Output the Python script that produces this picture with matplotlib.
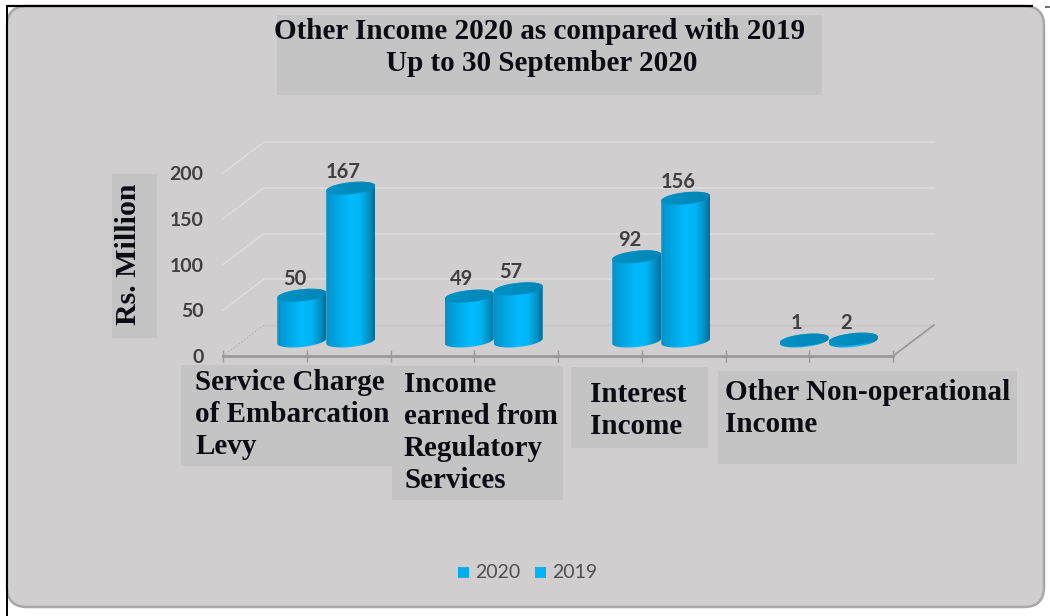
import numpy as np
import matplotlib
matplotlib.use("Agg")
import matplotlib.pyplot as plt
from matplotlib.colors import LinearSegmentedColormap
from matplotlib.patches import FancyBboxPatch, Rectangle
from matplotlib.path import Path
from matplotlib.transforms import Affine2D

categories = ["Service Charge\nof Embarcation\nLevy",
              "Income\nearned from\nRegulatory\nServices",
              "Interest\nIncome",
              "Other Non-operational\nIncome"]
series_names = ["2020", "2019"]
values_2020 = [50, 49, 92, 1]
values_2019 = [167, 57, 156, 2]
y_ticks = [0, 50, 100, 150, 200]
title_lines = ["Other Income 2020 as compared with 2019", "Up to 30 September 2020"]
y_title = "Rs. Million"

W, H = 1050, 616
PANEL = "#d0cece"
BOX = "#c4c4c4"
SERIF = "Liberation Serif"
SANS = "Lato"
INK = "#0b0b12"
LABEL = "#404040"

fig = plt.figure(figsize=(W / 100, H / 100), dpi=100, facecolor="white")

# Page-level layer, addressed in pixels from the top left
bg = fig.add_axes([0, 0, 1, 1], zorder=0)
bg.set_xlim(0, W)
bg.set_ylim(H, 0)
bg.axis("off")
bg.add_patch(FancyBboxPatch((7, 6), 1037, 601,
                            boxstyle="round,pad=0,rounding_size=20",
                            fc=PANEL, ec="#a8a8a8", lw=1.8))
bg.plot([6, 1033], [5.5, 5.5], color="black", lw=1.6, solid_capstyle="butt")
bg.plot([1045, 1050], [7, 7], color="#707070", lw=1.4, solid_capstyle="butt")
bg.plot([6.5, 6.5], [5, 616], color="black", lw=1.4, solid_capstyle="butt")

# Title and label backdrops
for (x0, y0, x1, y1) in [(277, 15, 822, 95), (112, 174, 157, 338),
                         (181, 365, 392, 466), (392, 366, 563, 500),
                         (571, 367, 708, 448), (718, 371, 1017, 464)]:
    bg.add_patch(Rectangle((x0, y0), x1 - x0, y1 - y0, fc=BOX, ec="none"))

for line, xc, yc in zip(title_lines, (540, 542), (31.5, 63.5)):
    bg.text(xc, yc, line, ha="center", va="center", family=SERIF,
            weight="bold", fontsize=21, color=INK)
bg.text(129, 254, y_title, rotation=90, ha="center", va="center", family=SERIF,
        weight="bold", fontsize=21.5, color=INK)

label_x = (195, 404, 590, 725)
label_y = (382.5, 384.5, 394.5, 392.5)
for text, x, y in zip(categories, label_x, label_y):
    for i, line in enumerate(text.split("\n")):
        bg.text(x, y + i * 32, line, ha="left", va="center", family=SERIF,
                weight="bold", fontsize=21, color=INK)

# Legend
for name, colour, sx, tx in zip(series_names, ("#00aeef", "#00b4f5"), (458, 535), (475, 552)):
    bg.add_patch(Rectangle((sx, 567), 11, 11, fc=colour, ec="none"))
    bg.text(tx, 572, name, ha="left", va="center", family=SANS, fontsize=14, color="#505050")

# Front plane of the chart: one data axes on the floor edge
X0, X1, Y0, Y1 = 223, 893, 356, 173
ax = fig.add_axes([X0 / W, 1 - Y0 / H, (X1 - X0) / W, (Y0 - Y1) / H], zorder=1)
ax.patch.set_alpha(0)
ax.set_xlim(-0.5, 3.5)
ax.set_ylim(0, 200)
for s in ("top", "right", "left"):
    ax.spines[s].set_visible(False)
ax.spines["bottom"].set_color("#9a9a9a")
ax.spines["bottom"].set_linewidth(2)

ax.set_yticks(y_ticks)
ax.tick_params(axis="y", length=0, pad=14)
for t in ax.get_yticklabels():
    t.set_family(SANS)
    t.set_weight("bold")
    t.set_fontsize(14)
    t.set_color(LABEL)
ax.set_xticks(np.arange(-0.5, 3.6, 0.5))
ax.set_xticklabels([])
ax.tick_params(axis="x", direction="inout", length=8.5, width=1, color="#9a9a9a")

# Depth shifts in pixels: back wall and the row holding the cylinders
back = ax.transData + Affine2D().translate(41, 31)
row = ax.transData + Affine2D().translate(19.5, 15)
front = ax.transData


def receding_edge(x, v, **style):
    p0, p1 = front.transform((x, v)), back.transform((x, v))
    ax.add_line(plt.Line2D([p0[0], p1[0]], [p0[1], p1[1]], transform=None,
                           clip_on=False, zorder=1, **style))


# Back wall gridlines and receding edges
for v in y_ticks:
    ax.plot([-0.5, 3.5], [v, v], transform=back, color="#dcdcdc" if v else "#c8c8c8",
            lw=1.3 if v else 1.8, clip_on=False, zorder=1)
    if v:
        receding_edge(-0.5, v, color="#dcdcdc", lw=1.2)
receding_edge(-0.5, 0, color="#b4b4b4", lw=0.9, ls=":")
receding_edge(3.5, 0, color="#9a9a9a", lw=1.3)

# Cylinders
px_x = (X1 - X0) / 4
px_y = (Y0 - Y1) / 200
half_w = 24.5 / px_x
half_h = 6.0 / px_y
tilt = 2.5 / px_y
body_cmap = LinearSegmentedColormap.from_list(
    "body", [(0, "#0c90c4"), (0.15, "#009fdb"), (0.5, "#00bbff"), (0.7, "#00b5f5"),
             (0.88, "#0090c4"), (1, "#006e9a")])
cap_cmap = LinearSegmentedColormap.from_list(
    "cap", [(0, "#0092c6"), (0.6, "#008abc"), (1, "#0086b6")])
ramp = np.linspace(0, 1, 256)[None, :]


def ellipse_arc(cx, level, t):
    return np.column_stack([cx + half_w * np.cos(t),
                            level + half_h * np.sin(t) + tilt * np.cos(t)])


def cylinder(cx, value, z):
    lower = ellipse_arc(cx, 0, np.linspace(np.pi, 2 * np.pi, 60))
    upper = ellipse_arc(cx, value, np.linspace(0, np.pi, 60))
    outline = np.vstack([lower, upper, lower[:1]])
    im = ax.imshow(ramp, cmap=body_cmap, aspect="auto", zorder=z,
                   extent=(cx - half_w, cx + half_w, -half_h - tilt, value + half_h + tilt))
    im.set_transform(row)
    im.set_clip_path(Path(outline), row)
    cap = ellipse_arc(cx, value, np.linspace(0, 2 * np.pi, 120))
    im2 = ax.imshow(ramp, cmap=cap_cmap, aspect="auto", zorder=z + 0.1,
                    extent=(cx - half_w, cx + half_w, value - half_h - tilt, value + half_h + tilt))
    im2.set_transform(row)
    im2.set_clip_path(Path(cap), row)


offset = half_w
for i, (a, b) in enumerate(zip(values_2020, values_2019)):
    cylinder(i - offset, a, 3)
    cylinder(i + offset, b, 4)
ax.set_xlim(-0.5, 3.5)
ax.set_ylim(0, 200)

# Value labels sit above each cylinder top
for i, (a, b) in enumerate(zip(values_2020, values_2019)):
    for cx, v in ((i - offset, a), (i + offset, b)):
        ax.annotate(str(v), (cx, v), xycoords=row, xytext=(-5.3, 12), textcoords="offset points",
                    ha="center", va="center", family=SANS, weight="bold",
                    fontsize=14.5, color=LABEL, zorder=6, annotation_clip=False)

fig.savefig("out.png", dpi=100, facecolor="white")
